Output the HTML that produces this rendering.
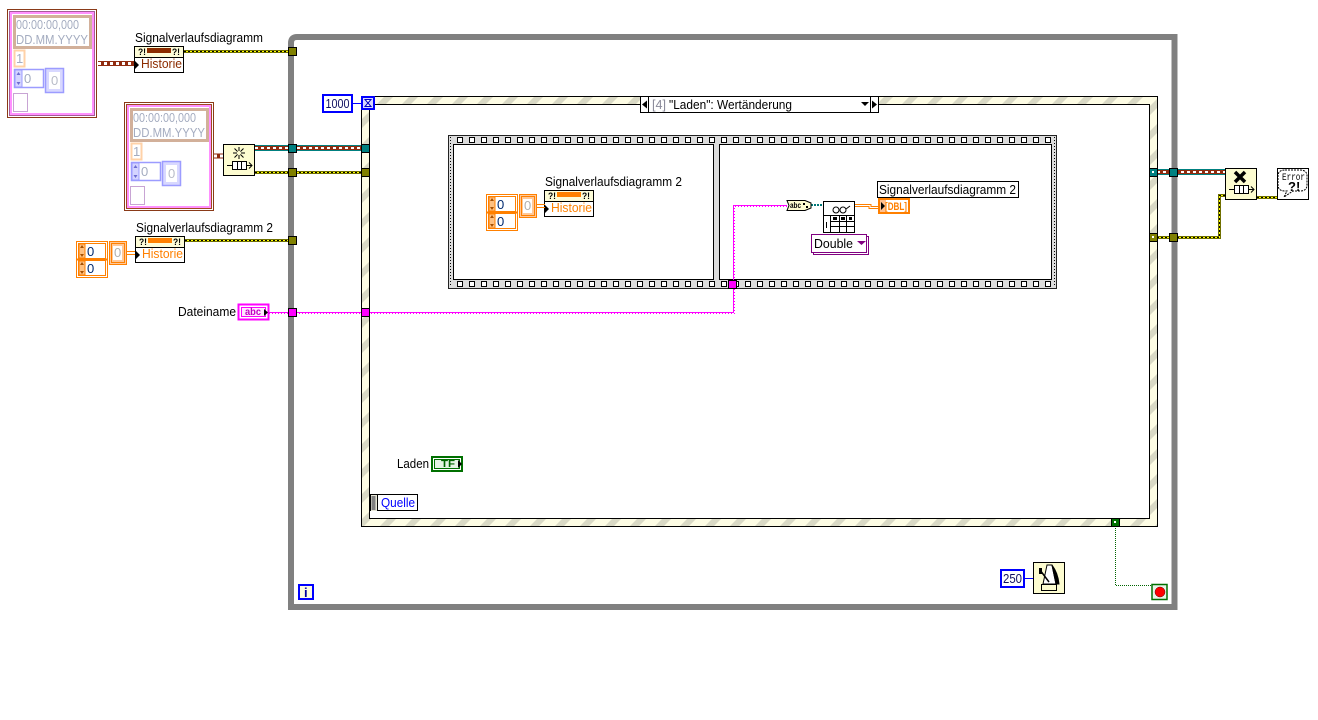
<!DOCTYPE html>
<html><head><meta charset="utf-8">
<style>
html,body{margin:0;padding:0;background:#fff;width:1318px;height:720px;overflow:hidden}
svg{display:block;position:absolute;left:0;top:0}
text{font-family:"Liberation Sans",sans-serif;font-size:13px;fill:#000}
</style></head><body>
<svg width="1318" height="720" viewBox="0 0 1318 720" xmlns="http://www.w3.org/2000/svg">
<defs>
<pattern id="stripe" patternUnits="userSpaceOnUse" width="25" height="25">
<rect width="25" height="25" fill="#fdfce4"/>
<path d="M6 0H15L0 15V6Z M25 6V15L15 25H6Z" fill="#d9d9c5"/>
</pattern>
<pattern id="holes" patternUnits="userSpaceOnUse" x="457" y="137" width="12" height="200">
<rect x="0.5" y="0.5" width="5" height="5" fill="#fff" stroke="#000"/>
<rect x="0.5" y="144.5" width="5" height="5" fill="#fff" stroke="#000"/>
</pattern>
<g id="cluster">
<rect x="7.5" y="9.5" width="89" height="108" fill="#fff" stroke="#8a3a18"/>
<rect x="9.5" y="11.5" width="85" height="104" fill="#fff" stroke="#a85a98"/>
<rect x="11" y="13" width="82" height="101" fill="#fff" stroke="#ff90ff" stroke-width="2"/>
<rect x="14.5" y="16.5" width="76" height="31" fill="#fff" stroke="#d2b09a" stroke-width="3"/>
<text x="16" y="29" style="fill:#a4acc0" textLength="63" lengthAdjust="spacingAndGlyphs">00:00:00,000</text>
<text x="16" y="44" style="fill:#a4acc0" textLength="72" lengthAdjust="spacingAndGlyphs">DD.MM.YYYY</text>
<rect x="14.5" y="50.5" width="10" height="16" fill="#fff" stroke="#ffd2a8" stroke-width="2"/>
<text x="16" y="63" style="fill:#a4acc0">1</text>
<rect x="14.5" y="69.500" width="29" height="18" fill="#fff" stroke="#9c9cff" stroke-width="1.500"/>
<rect x="15" y="70" width="7" height="17" fill="#d4d4ff" stroke="#9c9cff"/>
<path d="M18.500 72l-2 3h4zM18.500 85l-2-3h4z" fill="#6c6cd0"/>
<text x="24" y="83" style="fill:#a4acc0">0</text>
<rect x="45.500" y="68.500" width="18" height="24" fill="#d8d8ff" stroke="#9c9cff" stroke-width="1.500"/>
<rect x="49" y="72" width="11" height="17" fill="#fff"/>
<text x="51" y="85" style="fill:#b8bcc8">0</text>
<rect x="13.500" y="93.500" width="14" height="18" fill="#fff" stroke="#c8a4d4"/>
</g>
<g id="hist">
<rect x="0.500" y="0.500" width="49" height="26" fill="#fff" stroke="#000"/>
<rect x="1" y="1" width="48" height="10" fill="#fdfcd8"/>
<line x1="0" y1="11.500" x2="49" y2="11.500" stroke="#000"/>
<text x="4" y="9" style="font-size:9px;font-weight:bold" textLength="8" lengthAdjust="spacingAndGlyphs">?!</text>
<text x="38" y="9" style="font-size:9px;font-weight:bold" textLength="8" lengthAdjust="spacingAndGlyphs">?!</text>
<path d="M1 15l4 4-4 4z" fill="#000"/>
</g>
<g id="oarr">
<rect x="76.500" y="241.500" width="31" height="36" fill="#fff" stroke="#ff8000"/>
<rect x="78.500" y="243.500" width="27" height="15" fill="#fff" stroke="#ff8000"/>
<rect x="78.500" y="260.500" width="27" height="15" fill="#fff" stroke="#ff8000"/>
<rect x="79" y="244" width="6" height="14" fill="#ffc080" stroke="#ff8000"/>
<rect x="79" y="261" width="6" height="14" fill="#ffc080" stroke="#ff8000"/>
<path d="M82 245l-2 3h4zM82 257l-2-3h4zM82 262l-2 3h4zM82 274l-2-3h4z" fill="#a85000"/>
<line x1="77" y1="259.500" x2="107" y2="259.500" stroke="#ff8000" stroke-width="2"/>
<text x="87" y="256" style="fill:#002a70">0</text>
<text x="87" y="273" style="fill:#002a70">0</text>
<rect x="109.500" y="241.500" width="17" height="23" fill="#ffc898" stroke="#ff8000"/>
<rect x="111.500" y="243.500" width="13" height="19" fill="#ffc898" stroke="#ff8000"/>
<rect x="113" y="246" width="9" height="14" fill="#fff"/>
<text x="114" y="257" style="fill:#b0b0b0">0</text>
<path d="M127 251.500h8M127 254.500h8" stroke="#ff8000" fill="none"/>
</g>
<g id="tq">
<path d="M4 21.500h6M23 21.500h6M26 18.500l3 3-3 3" stroke="#000" fill="none"/>
<rect x="9.500" y="17.500" width="14" height="8" fill="#fff" stroke="#000"/>
<path d="M14.500 17v9M18.500 17v9" stroke="#000"/>
</g>
</defs>

<!-- while loop -->
<path d="M291 610 V43 Q291 37 297 37 H1174.500 V607 H291" fill="none" stroke="#808080" stroke-width="6"/>

<!-- event structure -->
<rect x="361.500" y="96.500" width="796" height="430" fill="url(#stripe)" stroke="#000"/>
<rect x="369.500" y="104.500" width="780" height="414" fill="#fff" stroke="#000"/>

<!-- flat sequence -->
<rect x="448.500" y="135.500" width="608" height="153" fill="#dcdcdc" stroke="#222"/>
<rect x="457" y="137" width="594" height="150" fill="url(#holes)"/>
<rect x="453.500" y="144.500" width="260" height="135" fill="#fff" stroke="#000"/>
<rect x="719.500" y="144.500" width="332" height="135" fill="#fff" stroke="#000"/>
<path d="M450.500 137V287M1054.500 137V287" stroke="#000" stroke-dasharray="1 2"/>

<!-- wires -->
<g fill="none">
<g stroke="#707000" stroke-width="3">
<path d="M184 51.500H289M255 172.500H362M185 240.500H289M1157 237.500H1219.500V195.500H1226M1257 197.500H1277"/></g>
<g stroke="#ffff00" stroke-width="1">
<path d="M184 51.500H289M255 172.500H362M185 240.500H289M1157 237.500H1219.500V195.500H1226M1257 197.500H1277"/></g>
<g stroke="#000" stroke-width="1" stroke-dasharray="2 2">
<path d="M184 51.500H289M255 172.500H362M185 240.500H289M1157 237.500H1219.500V195.500H1226M1257 197.500H1277"/></g>
<path d="M255 148H362M1157 172H1226" stroke="#008080" stroke-width="6"/>
<path d="M255 148H362M1157 172H1226" stroke="#902c10" stroke-width="4"/>
<path d="M255 148H362M1157 172H1226" stroke="#fff" stroke-width="2" stroke-dasharray="3 3"/>
<path d="M98 63.500H134M214 156H223" stroke="#902c10" stroke-width="5"/>
<path d="M98 63.500H134M214 156H223" stroke="#fff" stroke-width="3" stroke-dasharray="3 3"/>
<path d="M269 312.500H733.500V205.500H787" stroke="#ff00ff"/>
<path d="M269 313.500H734.500V206.500H787" stroke="#ff00ff" stroke-dasharray="1 2"/>
<path d="M811 205H823" stroke="#007878" stroke-width="2" stroke-dasharray="2 1"/>
<path d="M855 204.500H871V206.500H878M855 206.500H869V208.500H878" stroke="#ff8000"/>
<path d="M353 103.500H362M1025 578.500H1033" stroke="#0000ff"/>
<path d="M1115.500 526V585.500H1152" stroke="#006400" stroke-dasharray="1 1"/>
</g>

<!-- tunnels -->
<g stroke="#000">
<rect x="288.500" y="47.500" width="8" height="8" fill="#808000"/>
<rect x="288.500" y="144.500" width="8" height="8" fill="#008080"/>
<rect x="288.500" y="168.500" width="8" height="8" fill="#808000"/>
<rect x="288.500" y="236.500" width="8" height="8" fill="#808000"/>
<rect x="288.500" y="308.500" width="8" height="8" fill="#ff00ff"/>
<rect x="361.500" y="144.500" width="8" height="8" fill="#008080"/>
<rect x="361.500" y="168.500" width="8" height="8" fill="#808000"/>
<rect x="361.500" y="308.500" width="8" height="8" fill="#ff00ff"/>
<rect x="728.500" y="280.500" width="8" height="8" fill="#ff00ff"/>
<rect x="1149.500" y="168.500" width="8" height="8" fill="#008080"/>
<rect x="1149.500" y="233.500" width="8" height="8" fill="#808000"/>
<rect x="1169.500" y="168.500" width="8" height="8" fill="#008080"/>
<rect x="1169.500" y="233.500" width="8" height="8" fill="#808000"/>
<rect x="1111.500" y="518.500" width="8" height="8" fill="#007000"/>
</g>
<rect x="1152" y="171" width="2" height="2" fill="#fff"/>
<rect x="1152" y="236" width="2" height="2" fill="#fff"/>
<rect x="1114" y="521" width="2" height="2" fill="#fff"/>

<!-- clusters -->
<use href="#cluster"/>
<use href="#cluster" transform="translate(117,93)"/>
<rect x="126.500" y="104.500" width="85" height="104" fill="none" stroke="#a04a20"/>

<!-- labels -->
<text x="135" y="42" textLength="128" lengthAdjust="spacingAndGlyphs">Signalverlaufsdiagramm</text>
<text x="136" y="232" textLength="137" lengthAdjust="spacingAndGlyphs">Signalverlaufsdiagramm 2</text>
<text x="545" y="186" textLength="137" lengthAdjust="spacingAndGlyphs">Signalverlaufsdiagramm 2</text>

<!-- history nodes -->
<g transform="translate(134,46)"><use href="#hist"/><rect x="13" y="2" width="24" height="5" fill="#8c2c00"/><text x="7" y="22" style="fill:#8c2c00" textLength="41" lengthAdjust="spacingAndGlyphs">Historie</text></g>
<g transform="translate(135,236)"><use href="#hist"/><rect x="13" y="2" width="24" height="5" fill="#ff8000"/><text x="7" y="22" style="fill:#ff8000" textLength="41" lengthAdjust="spacingAndGlyphs">Historie</text></g>
<g transform="translate(544,190)"><use href="#hist"/><rect x="13" y="2" width="24" height="5" fill="#ff8000"/><text x="7" y="22" style="fill:#ff8000" textLength="41" lengthAdjust="spacingAndGlyphs">Historie</text></g>

<!-- orange arrays -->
<use href="#oarr"/>
<use href="#oarr" transform="translate(410,-47)"/>

<!-- create notifier node -->
<rect x="223.500" y="144.500" width="31" height="31" fill="#fdfcd0" stroke="#000"/>
<use href="#tq" transform="translate(223,144)"/>
<path d="M239 147v12M233 153h12M234.500 148.500l9 9M243.500 148.500l-9 9" stroke="#000" fill="none"/>
<circle cx="239" cy="153" r="2" fill="#fdfcd0"/>

<!-- release node -->
<rect x="1225.500" y="168.500" width="31" height="31" fill="#fdfcd0" stroke="#000"/>
<use href="#tq" transform="translate(1225,168)"/>
<path d="M1235 172l10 10M1245 172l-10 10" stroke="#000" stroke-width="3.500" fill="none"/>

<!-- error handler -->
<rect x="1277.500" y="168.500" width="31" height="31" fill="#fff" stroke="#000"/>
<path d="M1285 170h15q7 0 7 6v9q0 6-7 6h-7l-9 6 3-6h-2q-7 0-7-6v-9q0-6 7-6z" fill="#fff" stroke="#000" stroke-dasharray="2 1"/>
<text x="1282" y="180" style="font-size:10px;font-family:'Liberation Mono',monospace" textLength="23" lengthAdjust="spacingAndGlyphs">Error</text>
<text x="1288" y="191" style="font-size:13px;font-weight:bold">?!</text>

<!-- constants -->
<rect x="323" y="95" width="29" height="17" fill="#fff" stroke="#0000ff" stroke-width="2"/>
<text x="325.500" y="108" style="fill:#101060" textLength="24" lengthAdjust="spacingAndGlyphs">1000</text>
<rect x="362" y="97" width="12" height="12" fill="#d8d8ff" stroke="#0000ff" stroke-width="2"/>
<path d="M365 99.500h6l-6 7h6z" fill="#fff" stroke="#0000c0"/>

<rect x="1001" y="570" width="23" height="17" fill="#fff" stroke="#0000ff" stroke-width="2"/>
<text x="1003" y="583" style="fill:#101060" textLength="19" lengthAdjust="spacingAndGlyphs">250</text>

<!-- metronome -->
<rect x="1033.500" y="562.500" width="31" height="31" fill="#fdfcd0" stroke="#000"/>
<path d="M1047 565h5l4 19h-13z" fill="#fff" stroke="#000"/>
<path d="M1052 565q6 8 7 19h-3z" fill="#000" stroke="#000"/>
<path d="M1040 570l9 12" stroke="#000" stroke-width="1.500"/>
<rect x="1039" y="568" width="3" height="6" fill="#000"/>
<rect x="1041.500" y="584.500" width="15" height="6" fill="#fdfcd0" stroke="#000"/>

<!-- stop -->
<rect x="1152" y="584.500" width="15" height="15" fill="#e8f4e8" stroke="#007000" stroke-width="1.500"/>
<circle cx="1160" cy="592" r="5" fill="#ff0000" stroke="#600000" stroke-width="0.500"/>

<!-- iteration -->
<rect x="299" y="585" width="14" height="14" fill="#fdfce0" stroke="#0000ff" stroke-width="2"/>
<text x="304" y="597" style="fill:#0000a0;font-weight:bold">i</text>

<!-- selector -->
<rect x="640.500" y="96.500" width="238" height="16" fill="#fff" stroke="#000"/>
<path d="M648.500 96V113M870.500 96V113" stroke="#000"/>
<path d="M642 104.500l5-4v8z M877 104.500l-5-4v8z M861 102h8l-4 4z" fill="#000"/>
<text x="652" y="109" style="fill:#8a8a9a" textLength="14" lengthAdjust="spacingAndGlyphs">[4]</text>
<text x="669" y="109" textLength="123" lengthAdjust="spacingAndGlyphs">"Laden": Wertänderung</text>

<!-- Quelle -->
<rect x="370.500" y="494.500" width="47" height="16" fill="#fff" stroke="#000"/>
<rect x="371" y="495" width="6" height="16" fill="#e8e8d8"/>
<rect x="371.500" y="496" width="4" height="14" fill="#808080"/>
<line x1="377.500" y1="495" x2="377.500" y2="511" stroke="#000"/>
<text x="381" y="507" style="fill:#0000ff" textLength="34" lengthAdjust="spacingAndGlyphs">Quelle</text>

<!-- Laden -->
<text x="397" y="468" textLength="32" lengthAdjust="spacingAndGlyphs">Laden</text>
<rect x="432" y="457" width="30" height="14" fill="#fff" stroke="#007000" stroke-width="2"/>
<rect x="434.500" y="459.500" width="25" height="9" fill="#e4f4e4" stroke="#007000"/>
<text x="441" y="467" style="fill:#006400;font-weight:bold;font-size:10px" textLength="14" lengthAdjust="spacingAndGlyphs">TF</text>
<path d="M458 460l4 4-4 4z" fill="#000"/>

<!-- Dateiname -->
<text x="178" y="316" textLength="58" lengthAdjust="spacingAndGlyphs">Dateiname</text>
<rect x="238.500" y="304.500" width="30" height="15" fill="#fff" stroke="#ff00ff" stroke-width="2"/>
<rect x="241.500" y="307.500" width="24" height="9" fill="#ffe8ff" stroke="#ff00ff"/>
<text x="245" y="315" style="fill:#c000c0;font-weight:bold;font-size:10px" textLength="16" lengthAdjust="spacingAndGlyphs">abc</text>
<path d="M264 309l4 3.500-4 3.500z" fill="#000"/>

<!-- string node -->
<path d="M787 200.500H805L811 203V208L805 210.500H787L789 205.500Z" fill="#fdfcd0" stroke="#000"/>
<text x="790" y="208" style="font-size:8px;font-weight:bold" textLength="11" lengthAdjust="spacingAndGlyphs">abc</text>
<rect x="803" y="203" width="2" height="2" fill="#000"/><rect x="806" y="206" width="2" height="2" fill="#000"/>

<!-- read spreadsheet node -->
<rect x="823.500" y="201.500" width="31" height="31" fill="#fff" stroke="#000"/>
<circle cx="836" cy="210" r="3" fill="#fff" stroke="#000"/>
<circle cx="843" cy="210" r="3" fill="#fff" stroke="#000"/>
<path d="M846 209l4-3" stroke="#000" fill="none"/>
<path d="M824 215.500H855M830.500 221.500H855M830.500 226.500H855M830.500 215V233M839.500 215V233M846.500 215V233" stroke="#000" fill="none"/>
<path d="M833 217h4v3h-4zM841 217h4v3h-4zM849 217h3v3h-3zM826 222h1v6h-1z" fill="#000"/>

<!-- Double -->
<rect x="813.500" y="236.500" width="55" height="18" fill="#fff" stroke="#800080"/>
<rect x="811.500" y="234.500" width="55" height="18" fill="#fff" stroke="#800080"/>
<text x="814" y="248" textLength="39" lengthAdjust="spacingAndGlyphs">Double</text>
<path d="M857 241h9l-4.500 4z" fill="#800080"/>

<!-- DBL -->
<rect x="877.500" y="181.500" width="141" height="16" fill="#fff" stroke="#000"/>
<text x="879" y="194" textLength="137" lengthAdjust="spacingAndGlyphs">Signalverlaufsdiagramm 2</text>
<rect x="879" y="199" width="30" height="14" fill="#fff" stroke="#ff8000" stroke-width="2"/>
<rect x="880" y="200" width="6" height="12" fill="#ffc090"/>
<path d="M881 202l4 4-4 4z" fill="#000"/>
<text x="885" y="210" style="fill:#ff8000;font-weight:bold;font-size:11px" textLength="22" lengthAdjust="spacingAndGlyphs">[DBL]</text>
</svg>
</body></html>
